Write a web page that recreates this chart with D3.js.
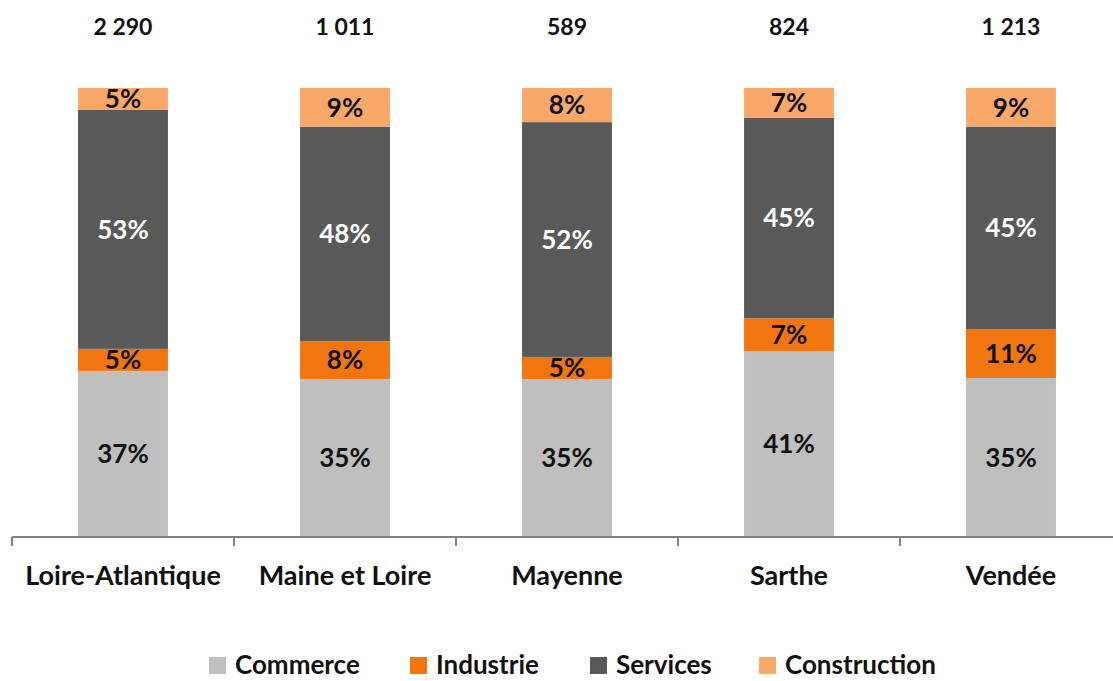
<!DOCTYPE html>
<html>
<head>
<meta charset="utf-8">
<script src="https://cdn.jsdelivr.net/npm/d3@7"></script>
<style>
  body { margin: 0; background: #fff; }
  text { font-family: Lato, "Open Sans", sans-serif; font-weight: bold; }
</style>
</head>
<body>
<svg id="chart" width="1113" height="681"></svg>
<script>
const departments = ["Loire-Atlantique", "Maine et Loire", "Mayenne", "Sarthe", "Vendée"];
const totals = ["2 290", "1 011", "589", "824", "1 213"];
const sectors = ["Commerce", "Industrie", "Services", "Construction"];
const commerce = [37.0, 35.2, 35.2, 41.4, 35.4];
const industrie = [4.9, 8.4, 4.9, 7.3, 10.9];
const services = [53.2, 47.8, 52.3, 44.7, 45.1];
const construction = [4.9, 8.6, 7.6, 6.6, 8.6];

const colors = {
  Commerce: "#bfbfbf",
  Industrie: "#f2760f",
  Services: "#595959",
  Construction: "#f9a86a"
};
const labelColors = { Commerce: "#111", Industrie: "#111", Services: "#fff", Construction: "#111" };

const rows = departments.map((d, i) => ({
  dept: d,
  Commerce: commerce[i],
  Industrie: industrie[i],
  Services: services[i],
  Construction: construction[i]
}));

const svg = d3.select("#chart");
const baseline = 537, plotTop = 88;

const x = d3.scaleBand()
  .domain(departments)
  .range([12, 12 + 222 * departments.length])
  .paddingInner(0.595)
  .paddingOuter(0.2975);

const y = d3.scaleLinear().domain([0, 100]).range([baseline, plotTop]);

const series = d3.stack().keys(sectors)(rows);

const groups = svg.append("g").selectAll("g")
  .data(series)
  .join("g")
  .attr("fill", s => colors[s.key]);

groups.selectAll("rect")
  .data(s => s.map(p => Object.assign(p, { key: s.key })))
  .join("rect")
  .attr("x", d => x(d.data.dept))
  .attr("width", x.bandwidth())
  .attr("y", d => y(d[1]))
  .attr("height", d => y(d[0]) - y(d[1]));

groups.selectAll("text")
  .data(s => s)
  .join("text")
  .attr("x", d => x(d.data.dept) + x.bandwidth() / 2)
  .attr("y", d => (y(d[0]) + y(d[1])) / 2)
  .attr("dy", "0.36em")
  .attr("text-anchor", "middle")
  .attr("font-size", 26)
  .attr("fill", d => labelColors[d.key])
  .text(d => Math.round(d[1] - d[0]) + "%");

// totals
svg.append("g").selectAll("text")
  .data(departments)
  .join("text")
  .attr("x", d => x(d) + x.bandwidth() / 2)
  .attr("y", 27)
  .attr("dy", "0.36em")
  .attr("text-anchor", "middle")
  .attr("font-size", 23)
  .attr("fill", "#111")
  .text((d, i) => totals[i]);

// axis
const axis = svg.append("g").attr("stroke", "#808080").attr("stroke-width", 2);
axis.append("line")
  .attr("x1", x.range()[0]).attr("x2", x.range()[1])
  .attr("y1", baseline).attr("y2", baseline);
axis.selectAll(".tick")
  .data(d3.range(departments.length + 1))
  .join("line")
  .attr("x1", i => x.range()[0] + i * x.step())
  .attr("x2", i => x.range()[0] + i * x.step())
  .attr("y1", baseline).attr("y2", baseline + 9);

svg.append("g").selectAll("text")
  .data(departments)
  .join("text")
  .attr("x", d => x(d) + x.bandwidth() / 2)
  .attr("y", 575)
  .attr("dy", "0.36em")
  .attr("text-anchor", "middle")
  .attr("font-size", 27)
  .attr("fill", "#111")
  .text(d => d);

// legend
const legendX = [209, 410, 590, 759];
const legend = svg.append("g").selectAll("g")
  .data(sectors)
  .join("g")
  .attr("transform", (d, i) => `translate(${legendX[i]},665)`);
legend.append("rect")
  .attr("x", 0).attr("y", -8)
  .attr("width", 17).attr("height", 17)
  .attr("fill", d => colors[d]);
legend.append("text")
  .attr("x", 26)
  .attr("dy", "0.36em")
  .attr("font-size", 26)
  .attr("fill", "#111")
  .text(d => d);
</script>
</body>
</html>
